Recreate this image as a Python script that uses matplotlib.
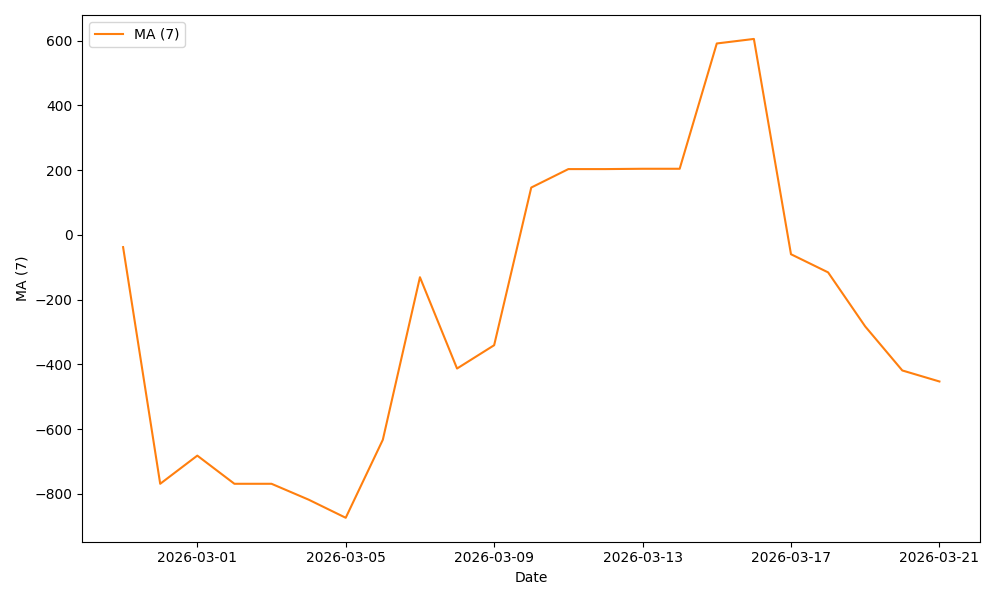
import matplotlib
matplotlib.use("Agg")
import matplotlib.pyplot as plt
import matplotlib.dates as mdates
import pandas as pd

dates = pd.date_range("2026-02-27", "2026-03-21", freq="D")
ma7 = [-38, -769, -682, -769, -769, -818, -874, -633, -131, -413, -341,
       146, 203, 203, 204, 204, 591, 605, -60, -116, -283, -419, -453]

fig, ax = plt.subplots(figsize=(10, 6), dpi=100)
ax.plot(dates, ma7, color="#ff7f0e", label="MA (7)")
ax.set_xlabel("Date")
ax.set_ylabel("MA (7)")
ax.xaxis.set_major_locator(mdates.DayLocator(bymonthday=[1, 5, 9, 13, 17, 21]))
ax.xaxis.set_major_formatter(mdates.DateFormatter("%Y-%m-%d"))
ax.legend(loc="upper left")
fig.tight_layout()
fig.savefig("out.png")
